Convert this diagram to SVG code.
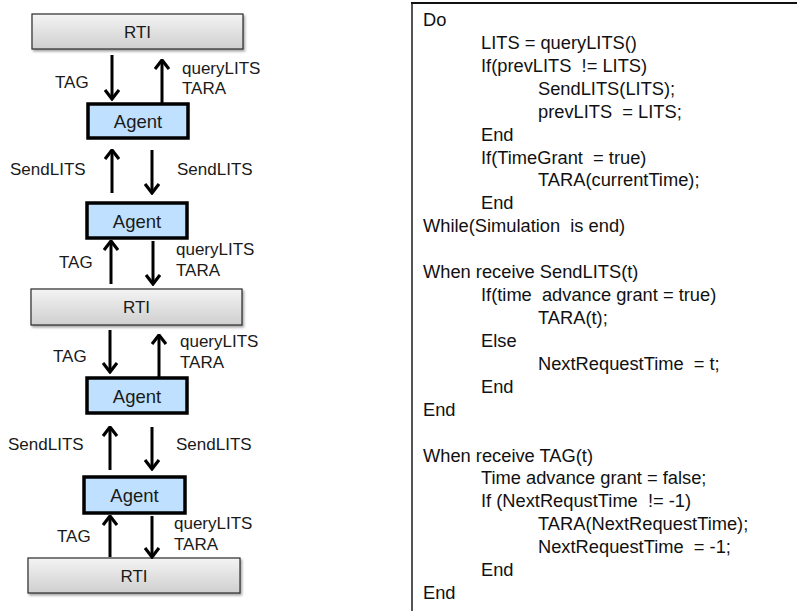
<svg xmlns="http://www.w3.org/2000/svg" width="797" height="611" viewBox="0 0 797 611">
  <style>
    .lbl { font-family: "Liberation Sans", Arial, sans-serif; font-size: 17px; fill: #1a1a1a; }
    .ctr { text-anchor: middle; }
    .big { font-size: 18.5px; }
    .rti { fill: url(#rtiFill); stroke: #2a2a2a; stroke-width: 1.2; filter: url(#shadow); }
    .agent { fill: #bfe1ff; stroke: #000; stroke-width: 3.5; }
    .arrow { stroke: #000; stroke-width: 3; fill: none; marker-end: url(#head); }
    .code { font-family: "Liberation Sans", Arial, sans-serif; font-size: 18.3px; fill: #111; white-space: pre; }
  </style>
  <defs>
    <linearGradient id="rtiFill" x1="0" y1="0" x2="0" y2="1">
      <stop offset="0" stop-color="#f4f4f4"/>
      <stop offset="1" stop-color="#cfcfcf"/>
    </linearGradient>
    <filter id="shadow" x="-5%" y="-20%" width="115%" height="160%">
      <feDropShadow dx="1.5" dy="2" stdDeviation="1.2" flood-color="#000" flood-opacity="0.35"/>
    </filter>
    <marker id="head" viewBox="0 0 12 16" refX="10.5" refY="8" markerWidth="12" markerHeight="16" orient="auto" markerUnits="userSpaceOnUse">
      <path d="M1.5,1 L10.5,8 L1.5,15" fill="none" stroke="#000" stroke-width="3.2"/>
    </marker>
  </defs>

  <rect width="797" height="611" fill="#fff"/>

  <!-- left: message flow between RTIs and agents -->
  <g id="rti1"><rect class="rti" x="32" y="14" width="211" height="35"/><text class="lbl ctr" x="137.5" y="38">RTI</text></g>
  <g id="agent1"><rect class="agent" x="88" y="104" width="100" height="34"/><text class="lbl ctr big" x="138" y="128">Agent</text></g>
  <g id="agent2"><rect class="agent" x="87" y="203" width="100" height="35"/><text class="lbl ctr big" x="137" y="227.5">Agent</text></g>
  <g id="rti2"><rect class="rti" x="31" y="289" width="211" height="36"/><text class="lbl ctr" x="136.5" y="313">RTI</text></g>
  <g id="agent3"><rect class="agent" x="87" y="378" width="100" height="35"/><text class="lbl ctr big" x="137" y="402.5">Agent</text></g>
  <g id="agent4"><rect class="agent" x="84" y="477" width="101" height="36"/><text class="lbl ctr big" x="134.5" y="502">Agent</text></g>
  <g id="rti3"><rect class="rti" x="28" y="558" width="212" height="35"/><text class="lbl ctr" x="134" y="582">RTI</text></g>

  <g id="connectors">
    <line class="arrow" x1="112" y1="55" x2="112" y2="99"/>
    <line class="arrow" x1="162" y1="104" x2="162" y2="60"/>
    <line class="arrow" x1="112" y1="193" x2="112" y2="150"/>
    <line class="arrow" x1="152" y1="150" x2="152" y2="193"/>
    <line class="arrow" x1="111" y1="284" x2="111" y2="241"/>
    <line class="arrow" x1="153" y1="241" x2="153" y2="284"/>
    <line class="arrow" x1="110" y1="330" x2="110" y2="372"/>
    <line class="arrow" x1="159" y1="378" x2="159" y2="335"/>
    <line class="arrow" x1="110" y1="470" x2="110" y2="427"/>
    <line class="arrow" x1="152" y1="427" x2="152" y2="469"/>
    <line class="arrow" x1="110" y1="557" x2="110" y2="516"/>
    <line class="arrow" x1="152" y1="516" x2="152" y2="557"/>
  </g>

  <g id="labels">
    <text class="lbl" x="55" y="88">TAG</text>
    <text class="lbl" x="182" y="74">queryLITS</text>
    <text class="lbl" x="182" y="94">TARA</text>
    <text class="lbl" x="10" y="175">SendLITS</text>
    <text class="lbl" x="177" y="175">SendLITS</text>
    <text class="lbl" x="59" y="268">TAG</text>
    <text class="lbl" x="176" y="255">queryLITS</text>
    <text class="lbl" x="176" y="276">TARA</text>
    <text class="lbl" x="53" y="362">TAG</text>
    <text class="lbl" x="180" y="347">queryLITS</text>
    <text class="lbl" x="180" y="368">TARA</text>
    <text class="lbl" x="8" y="450">SendLITS</text>
    <text class="lbl" x="176" y="450">SendLITS</text>
    <text class="lbl" x="57" y="542">TAG</text>
    <text class="lbl" x="174" y="529">queryLITS</text>
    <text class="lbl" x="174" y="550">TARA</text>
  </g>

  <!-- right: agent pseudocode -->
  <g id="code">
    <line x1="412" y1="2" x2="412" y2="611" stroke="#555" stroke-width="2"/>
    <line x1="411" y1="3" x2="797" y2="3" stroke="#111" stroke-width="2"/>
    <text class="code" x="423" y="26">Do</text>
    <text class="code" x="481" y="48.9">LITS = queryLITS()</text>
    <text class="code" x="481" y="71.8">If(prevLITS  != LITS)</text>
    <text class="code" x="538" y="94.8">SendLITS(LITS);</text>
    <text class="code" x="538" y="117.7">prevLITS  = LITS;</text>
    <text class="code" x="481" y="140.6">End</text>
    <text class="code" x="481" y="163.5">If(TimeGrant  = true)</text>
    <text class="code" x="538" y="186.4">TARA(currentTime);</text>
    <text class="code" x="481" y="209.4">End</text>
    <text class="code" x="423" y="232.3">While(Simulation  is end)</text>
    <text class="code" x="423" y="278.1">When receive SendLITS(t)</text>
    <text class="code" x="481" y="301">If(time  advance grant = true)</text>
    <text class="code" x="538" y="324">TARA(t);</text>
    <text class="code" x="481" y="346.9">Else</text>
    <text class="code" x="538" y="369.8">NextRequestTime  = t;</text>
    <text class="code" x="481" y="392.7">End</text>
    <text class="code" x="423" y="415.6">End</text>
    <text class="code" x="423" y="461.5">When receive TAG(t)</text>
    <text class="code" x="481" y="484.4">Time advance grant = false;</text>
    <text class="code" x="481" y="507.3">If (NextRequstTime  != -1)</text>
    <text class="code" x="538" y="530.2">TARA(NextRequestTime);</text>
    <text class="code" x="538" y="553.1">NextRequestTime  = -1;</text>
    <text class="code" x="481" y="576">End</text>
    <text class="code" x="423" y="599">End</text>
  </g>
</svg>
